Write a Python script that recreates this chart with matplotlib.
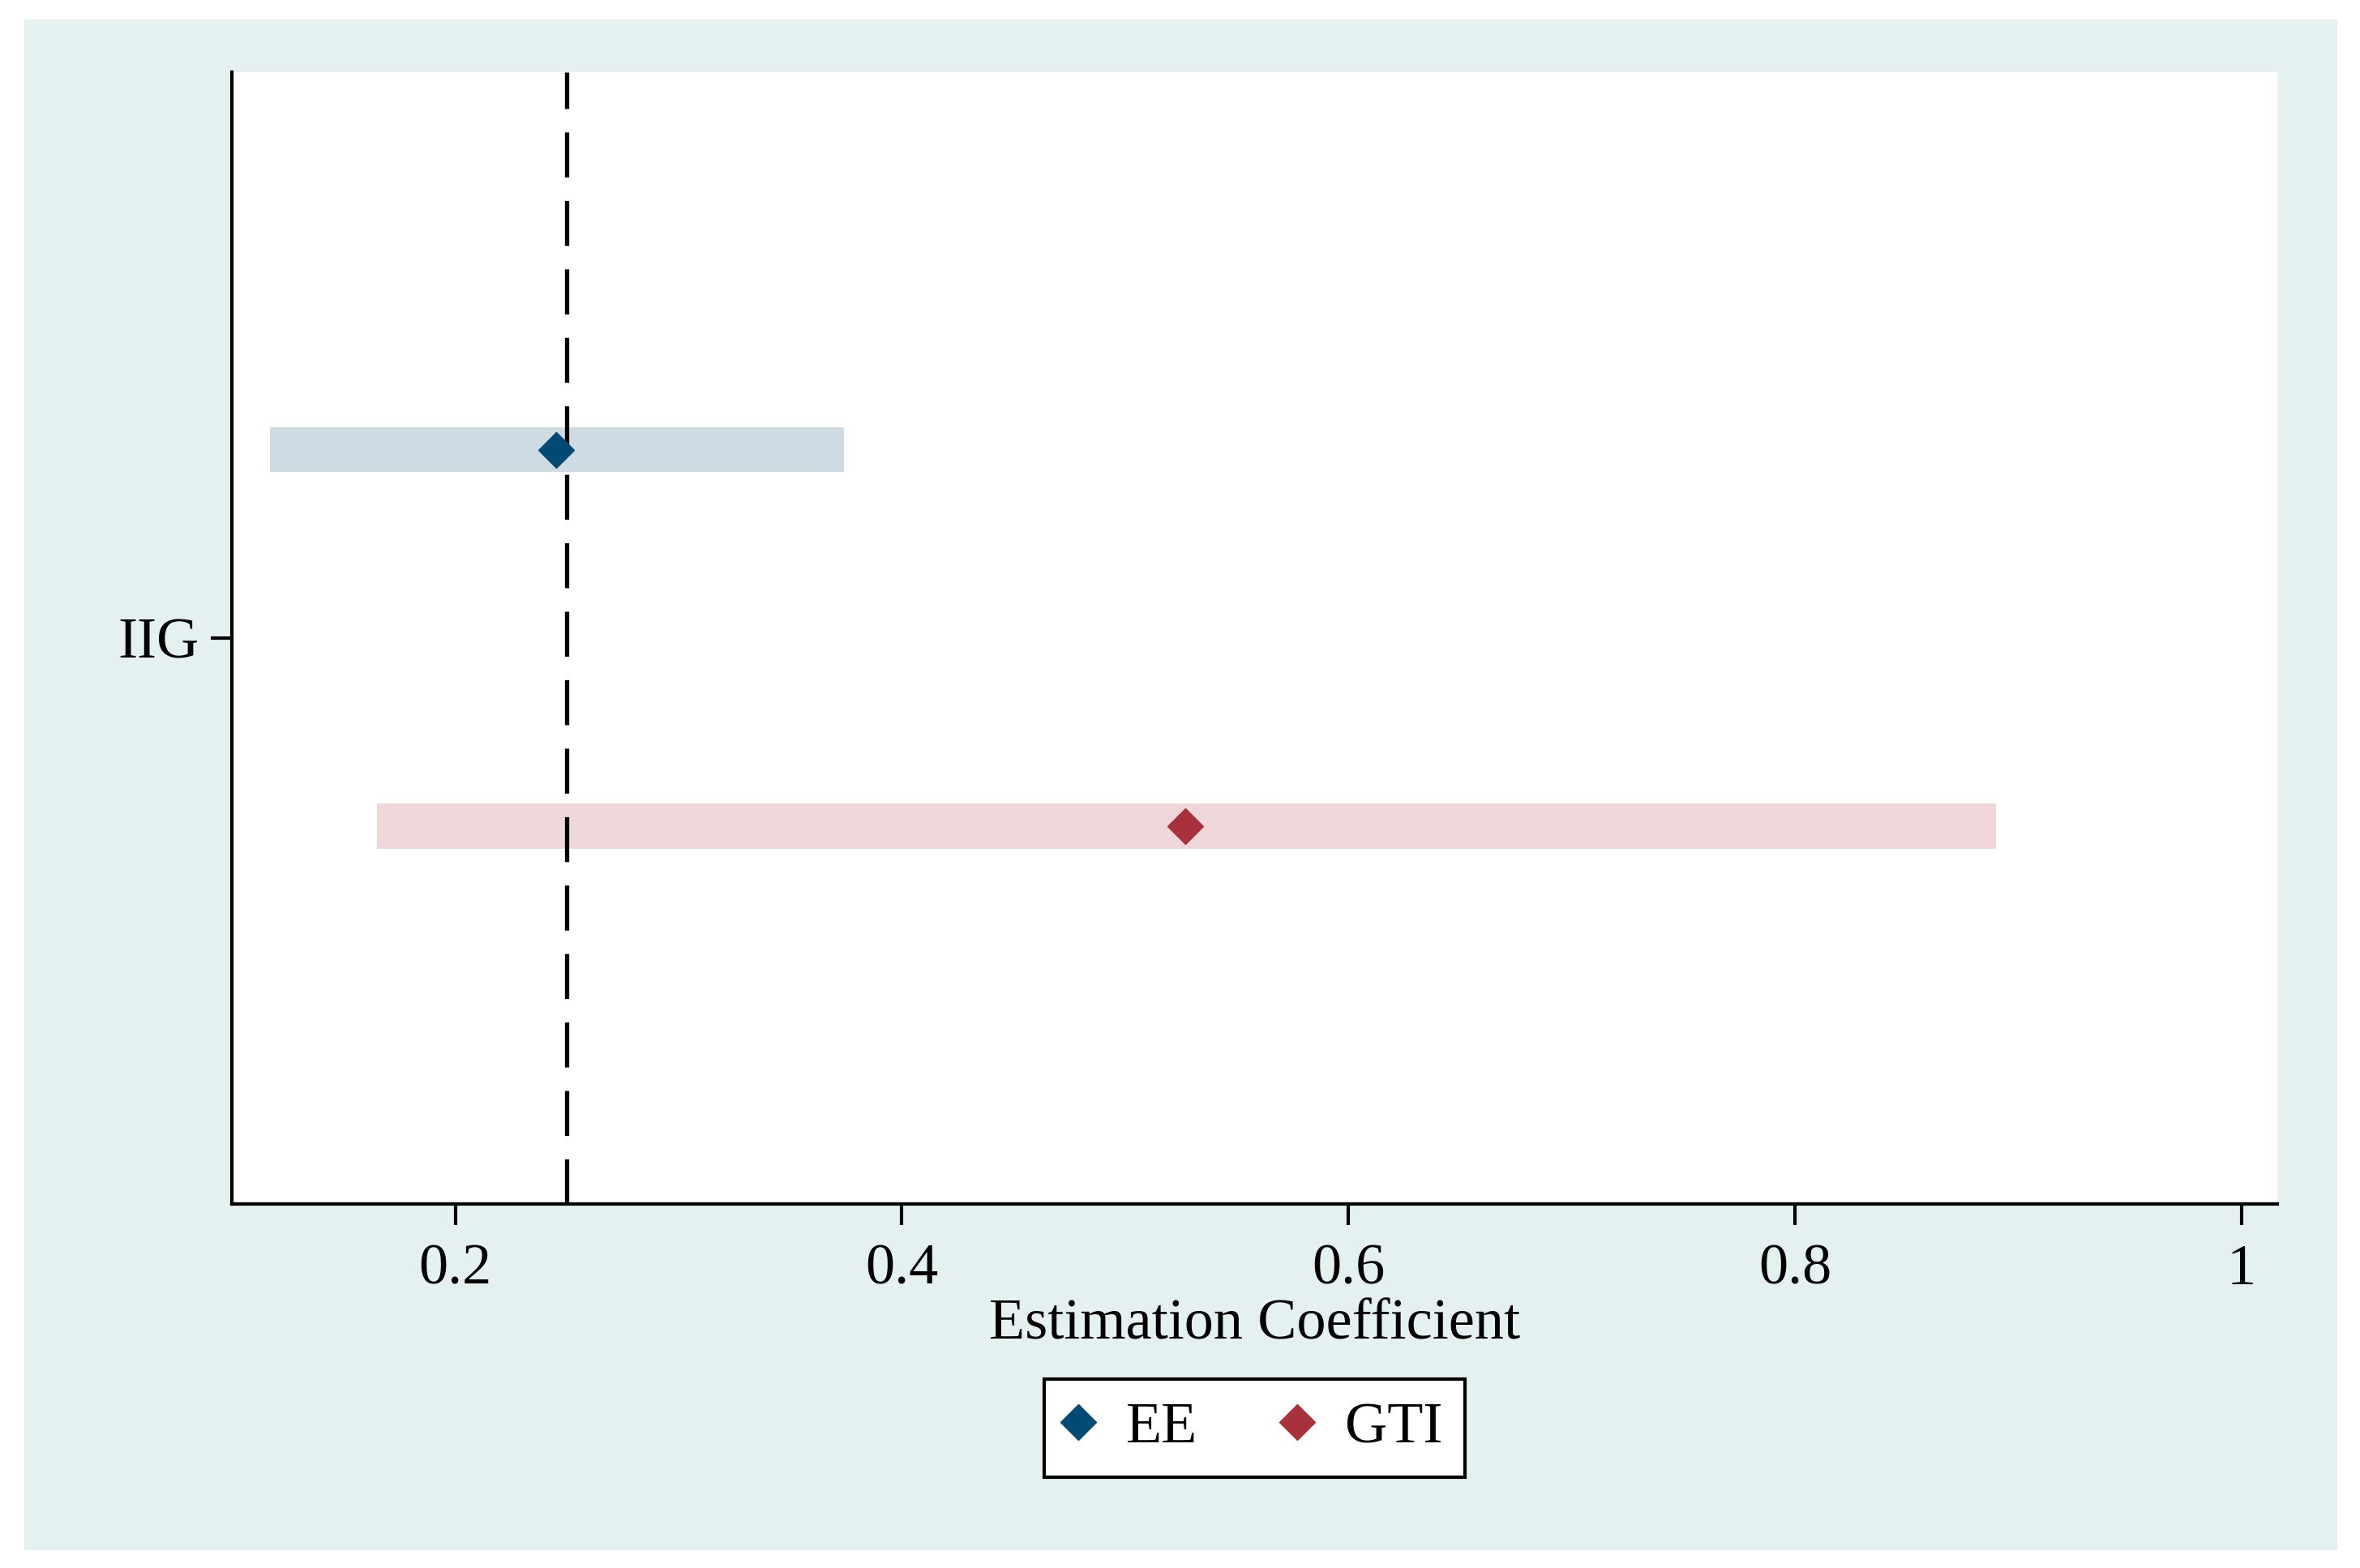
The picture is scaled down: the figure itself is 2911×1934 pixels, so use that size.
import matplotlib
matplotlib.use("Agg")
import matplotlib.pyplot as plt
from matplotlib.patches import Rectangle
from matplotlib.lines import Line2D

# coefficient estimates and confidence intervals
series = ["EE", "GTI"]
coef = [0.245, 0.527]
ci_low = [0.117, 0.165]
ci_high = [0.374, 0.890]
offsets = [0.333, -0.333]
category = "IIG"
ref_value = 0.25
xticks = [0.2, 0.4, 0.6, 0.8, 1.0]
xticklabels = ["0.2", "0.4", "0.6", "0.8", "1"]

marker_colors = ["#004a75", "#a8323c"]
bar_colors = ["#cfdbe3", "#efd6d8"]
panel_color = "#e5f0f0"

plt.rcParams["font.family"] = ["Liberation Serif", "DejaVu Serif"]

fig = plt.figure(figsize=(29.11, 19.34), dpi=100, facecolor="white")
fig.add_artist(Rectangle((0.0103, 0.0114), 0.9801, 0.9762, transform=fig.transFigure,
                         facecolor=panel_color, edgecolor="none", zorder=-10))

ax = fig.add_axes([0.0983, 0.2322, 0.8667, 0.7218])
ax.set_facecolor("white")

for i in range(len(series)):
    y = 1 + offsets[i]
    ax.barh(y, ci_high[i] - ci_low[i], left=ci_low[i], height=0.08,
            color=bar_colors[i], edgecolor="none", zorder=1)
    ax.plot(coef[i], y, marker="D", markersize=22, color=marker_colors[i],
            linestyle="none", zorder=3)

ax.axvline(ref_value, color="black", linewidth=3.8, dashes=(10.5, 5.5), zorder=2)

ax.set_xlim(0.1, 1.016)
ax.set_ylim(0, 2)
ax.set_xticks(xticks)
ax.set_xticklabels(xticklabels)
ax.set_yticks([1])
ax.set_yticklabels([category])

for s in ["top", "right"]:
    ax.spines[s].set_visible(False)
for s in ["left", "bottom"]:
    ax.spines[s].set_linewidth(3)

ax.tick_params(axis="x", length=19, width=3, pad=16, labelsize=52)
ax.tick_params(axis="y", length=19, width=3, pad=10, labelsize=52)
ax.set_xlabel("Estimation Coefficient", fontsize=52, labelpad=2)

handles = [Line2D([], [], marker="D", markersize=22, color=c, linestyle="none")
           for c in marker_colors]
leg = ax.legend(handles, series, loc="upper center", bbox_to_anchor=(0.5, -0.155),
                ncol=2, fontsize=52, frameon=True, fancybox=False, framealpha=1,
                edgecolor="black", borderaxespad=0, handlelength=0.4,
                handletextpad=0.62, columnspacing=1.5, borderpad=0.38)
leg.get_frame().set_linewidth(3)

fig.savefig("out.png", dpi=100, facecolor="white")
